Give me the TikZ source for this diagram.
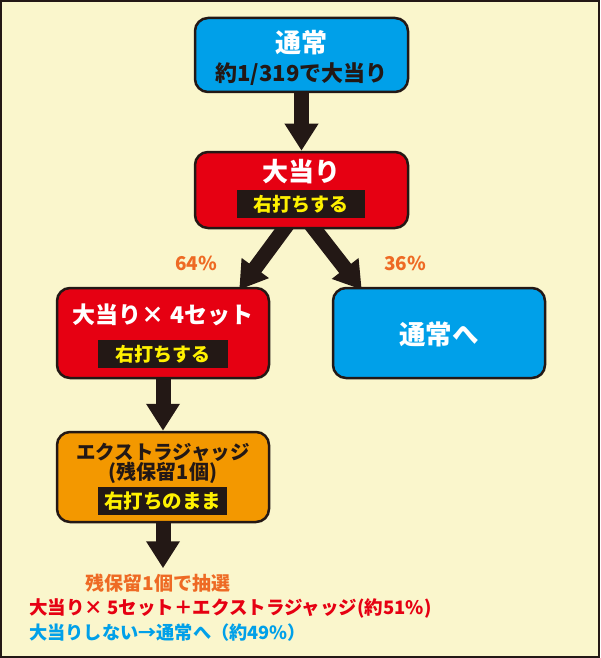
\documentclass[tikz,border=0pt]{standalone}
\usepackage{fontspec}
\setmainfont{Noto Sans CJK JP}
\usetikzlibrary{arrows.meta,calc}
\definecolor{bgc}{HTML}{FAF6CC}
\definecolor{bluec}{HTML}{00A0E9}
\definecolor{redc}{HTML}{E60012}
\definecolor{orc}{HTML}{F39800}
\definecolor{pct}{HTML}{EE6A24}
\definecolor{ylw}{HTML}{FFF100}
\definecolor{dk}{HTML}{231815}
\pgfdeclarelayer{bglayer}
\pgfdeclarelayer{arrowlayer}
\pgfsetlayers{bglayer,arrowlayer,main}
\newcommand{\fsz}[1]{\bfseries\fontsize{#1}{#1}\selectfont}
\begin{document}
\begin{tikzpicture}[x=1pt,y=-1pt,
 box/.style={draw=dk, line width=2.5pt, rounded corners=13pt, minimum width=213pt, inner sep=0pt},
 title/.style={font=\fsz{26}, inner sep=0pt},
 sub/.style={font=\fsz{20}, inner sep=0pt},
 tag/.style={fill=dk, text=ylw, minimum width=128pt, minimum height=28pt, inner sep=0pt, font=\fsz{19}},
 flow/.style={draw=dk, line width=15pt, -{Triangle[width=32pt,length=27pt]}},
 pctl/.style={text=pct, font=\fsz{19}, inner sep=0pt},
 note/.style={font=\fsz{18.5}, inner sep=0pt}]
\useasboundingbox (0,0) rectangle (600,658);
\begin{pgfonlayer}{bglayer}
\draw[draw=dk, fill=bgc, line width=2pt] (1,1) rectangle (599,657);
\end{pgfonlayer}

% box 1
\node[box, fill=bluec, minimum height=74pt] (b1) at (301.5,55) {};
\node[title, text=white] (t1) at (301.5,43) {通常};
\node[sub, text=dk, font=\fsz{22}] (s1) at (301.5,74) {約1/319で大当り};

% box 2
\node[box, fill=redc, minimum height=76pt] (b2) at (301.5,190) {};
\node[title, text=white] (t2) at (301.5,172) {大当り};
\node[tag] (g2) at (301,204) {右打ちする};

% box 3
\node[box, fill=redc, minimum height=90pt, minimum width=212pt] (b3) at (163,333) {};
\node[title, text=white, font=\fsz{23}] (t3) at (163,315) {大当り× 4セット};
\node[tag, minimum width=130pt] (g3) at (163,354) {右打ちする};

% box 4
\node[box, fill=bluec, minimum height=90pt, minimum width=212pt] (b4) at (439,333) {};
\node[title, text=white, font=\fsz{26.5}] (t4) at (439,334) {通常へ};

% box 5
\node[box, fill=orc, minimum height=90pt, minimum width=212pt] (b5) at (163,477) {};
\node[sub, text=dk, font=\fsz{19.5}] (t5) at (163,452) {エクストラジャッジ};
\node[sub, text=dk] (s5) at (163,473) {(残保留1個)};
\node[tag, minimum width=129pt, font=\fsz{19.5}] (g5) at (162.5,501) {右打ちのまま};

% percentages
\node[pctl] (p1) at (196,263) {64\%};
\node[pctl] (p2) at (405,263) {36\%};

% bottom notes
\node[note, text=pct, font=\fsz{19}] (n1) at (158,583) {残保留1個で抽選};
\node[note, text=redc, anchor=west] (n2) at (29,608) {大当り× 5セット＋エクストラジャッジ(約51\%)};
\node[note, text=bluec, anchor=west, font=\fsz{18.2}] (n3) at (29,633) {大当りしない→通常へ（約49\%）};

% connector anchors
\coordinate (sL) at ($(b2.south)+(-8,-13)$);
\coordinate (sR) at ($(b2.south)+(3,-13)$);
\coordinate (eL) at ($(b3.north east)+(-31,3)$);
\coordinate (eR) at ($(b4.north west)+(30,3)$);
\coordinate (e4) at ($(b5.south)+(0,45)$);

\begin{pgfonlayer}{arrowlayer}
\draw[flow] (b1.south) -- (b2.north);
\draw[flow] (sL) -- (eL);
\draw[flow] (sR) -- (eR);
\draw[flow] (b3.south) -- (b5.north);
\draw[flow] (b5.south) -- (e4);
\end{pgfonlayer}
\end{tikzpicture}
\end{document}
